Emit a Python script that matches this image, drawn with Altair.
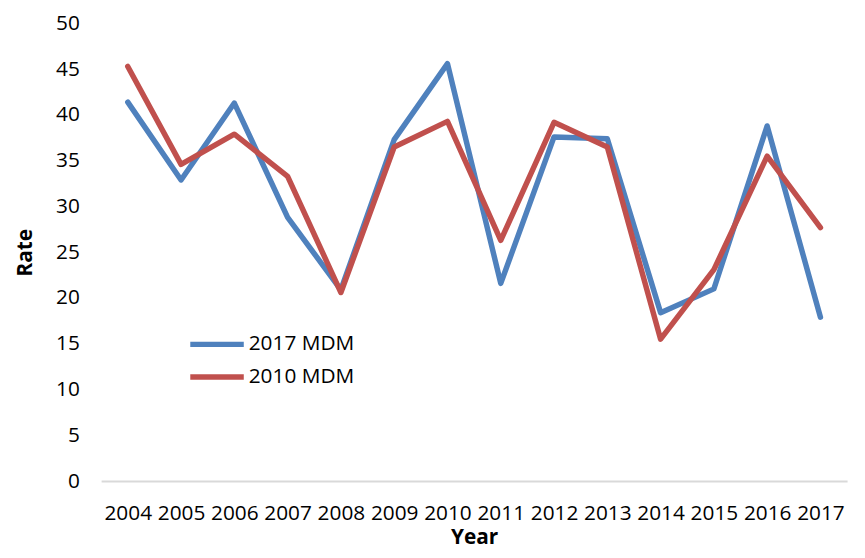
import altair as alt
import pandas as pd

years = [str(y) for y in range(2004, 2018)]
mdm_2017 = [41.4, 32.9, 41.3, 28.8, 20.9, 37.3, 45.6, 21.6, 37.6, 37.4, 18.4, 21.0, 38.8, 17.9]
mdm_2010 = [45.3, 34.6, 37.9, 33.3, 20.6, 36.5, 39.3, 26.3, 39.2, 36.5, 15.5, 23.1, 35.5, 27.7]
series_names = ["2017 MDM", "2010 MDM"]
colors = ["#4F81BD", "#C0504D"]

rows = []
for i, y in enumerate(years):
    rows.append({"Year": y, "Rate": mdm_2017[i], "Series": series_names[0]})
    rows.append({"Year": y, "Rate": mdm_2010[i], "Series": series_names[1]})
df = pd.DataFrame(rows)

FONT = "Open Sans"

chart = alt.Chart(df).mark_line(strokeWidth=5.5, strokeCap="round", strokeJoin="round").encode(
    x=alt.X("Year:N", sort=years, title="Year",
            scale=alt.Scale(paddingInner=0, paddingOuter=0.5),
            axis=alt.Axis(labelAngle=0, ticks=False, domainColor="#D9D9D9", domainWidth=2,
                          labelPadding=22, titlePadding=3, grid=False,
                          labelFont=FONT, labelFontSize=21, labelColor="#000000",
                          titleFont=FONT, titleFontSize=21, titleFontWeight="bold",
                          titleColor="#000000")),
    y=alt.Y("Rate:Q", title="Rate",
            scale=alt.Scale(domain=[0, 50], nice=False),
            axis=alt.Axis(values=list(range(0, 51, 5)), ticks=False, domain=False, grid=False,
                          labelPadding=22, titlePadding=20,
                          labelFont=FONT, labelFontSize=21, labelColor="#000000",
                          titleFont=FONT, titleFontSize=21, titleFontWeight="bold",
                          titleColor="#000000")),
    color=alt.Color("Series:N", sort=series_names,
                    scale=alt.Scale(domain=series_names, range=colors),
                    legend=alt.Legend(title=None, orient="none", legendX=104, legendY=311,
                                      symbolType="M-2.7,0L2.7,0", symbolSize=400,
                                      symbolStrokeWidth=5.5, symbolFillColor="transparent",
                                      labelFontSize=21, labelFont=FONT, labelColor="#000000",
                                      labelOffset=19, rowPadding=9)),
).properties(
    width=753, height=462,
    background="white",
    autosize=alt.AutoSizeParams(type="none"),
    padding={"left": 94, "top": 13, "right": 10, "bottom": 67},
).configure_view(stroke=None)

chart.save("out.html", embed_options={"renderer": "svg", "actions": False})
